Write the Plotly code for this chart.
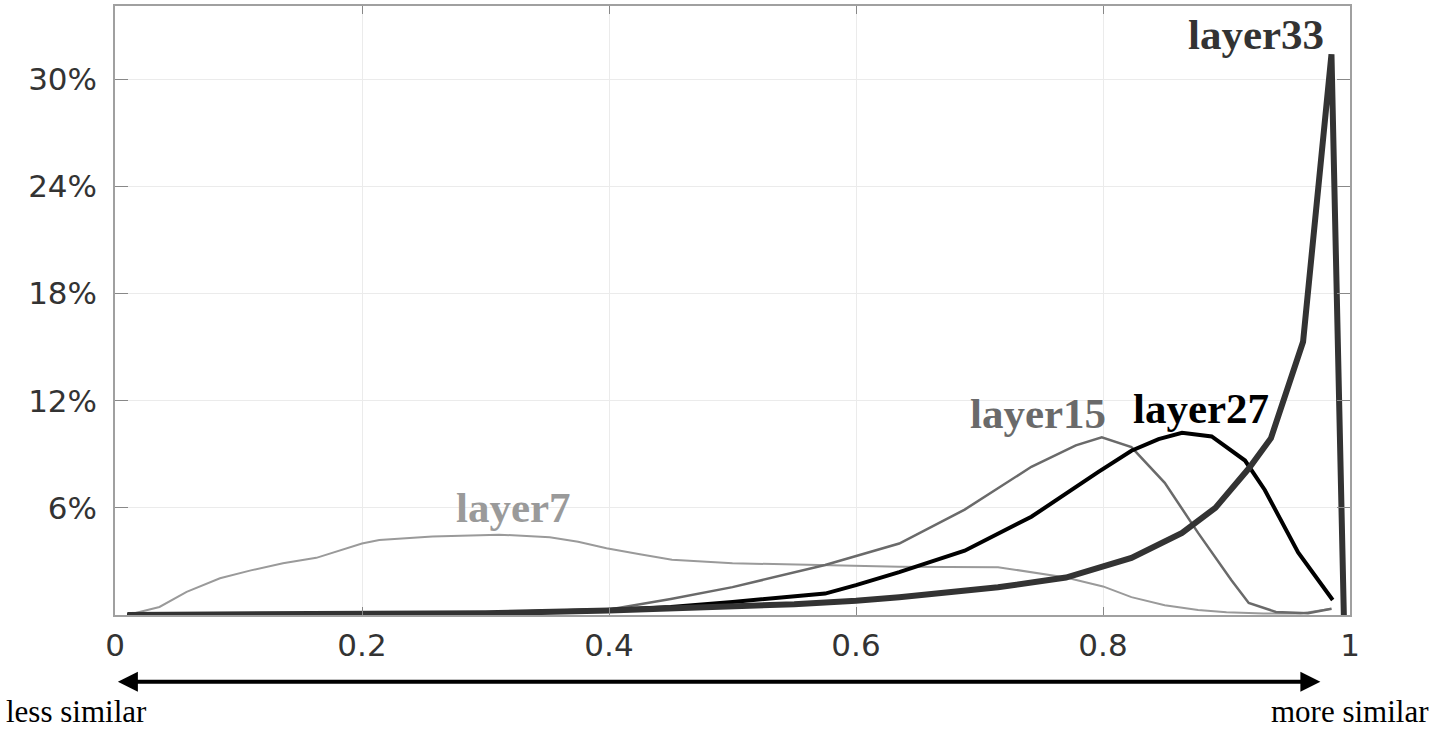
import plotly.graph_objects as go

# ---- data ----
x_layer7 = [0.01, 0.036, 0.058, 0.085, 0.11, 0.136, 0.163, 0.2, 0.214, 0.257, 0.311, 0.352, 0.375,
            0.398, 0.425, 0.451, 0.5, 0.567, 0.635, 0.715, 0.77, 0.8, 0.823, 0.85, 0.877, 0.9,
            0.93, 0.96, 0.985]
y_layer7 = [0, 0.45, 1.3, 2.06, 2.5, 2.9, 3.2, 4.0, 4.2, 4.4, 4.5, 4.35, 4.1,
            3.74, 3.4, 3.1, 2.9, 2.8, 2.7, 2.68, 2.1, 1.6, 1.0, 0.55, 0.28, 0.15,
            0.08, 0.08, 0.35]

x_layer15 = [0.01, 0.2, 0.3, 0.398, 0.45, 0.5, 0.575, 0.635, 0.688, 0.742, 0.778, 0.799,
             0.823, 0.85, 0.877, 0.904, 0.918, 0.94, 0.966, 0.985]
y_layer15 = [0, 0.03, 0.1, 0.28, 0.9, 1.56, 2.8, 4.0, 5.9, 8.3, 9.5, 9.95,
             9.4, 7.4, 4.6, 1.95, 0.67, 0.17, 0.1, 0.35]

x_layer27 = [0.01, 0.2, 0.3, 0.398, 0.45, 0.5, 0.575, 0.6, 0.635, 0.688, 0.742, 0.796,
             0.823, 0.845, 0.864, 0.888, 0.915, 0.931, 0.958, 0.986]
y_layer27 = [0, 0.03, 0.1, 0.28, 0.45, 0.73, 1.2, 1.67, 2.4, 3.6, 5.5, 8.0,
             9.2, 9.85, 10.2, 10.0, 8.65, 7.0, 3.5, 0.84]

x_layer33 = [0.01, 0.2, 0.3, 0.4, 0.5, 0.55, 0.6, 0.635, 0.715, 0.77, 0.823, 0.864,
             0.891, 0.918, 0.936, 0.962, 0.985, 0.995]
y_layer33 = [0, 0.05, 0.1, 0.25, 0.45, 0.6, 0.8, 1.0, 1.55, 2.1, 3.2, 4.6,
             6.0, 8.2, 9.9, 15.3, 31.4, 0]

x_tickvals = [0, 0.2, 0.4, 0.6, 0.8, 1]
x_ticktext = ["0", "0.2", "0.4", "0.6", "0.8", "1"]
y_tickvals = [6, 12, 18, 24, 30]
y_ticktext = ["6%", "12%", "18%", "24%", "30%"]

series = [
    ("layer7", x_layer7, y_layer7, "#9a9a9a", 2),
    ("layer15", x_layer15, y_layer15, "#6a6a6a", 2.5),
    ("layer27", x_layer27, y_layer27, "#000000", 4),
    ("layer33", x_layer33, y_layer33, "#333333", 6),
]
labels = [
    ("layer7", 0.323, 6.0, "#9a9a9a"),
    ("layer15", 0.747, 11.3, "#6a6a6a"),
    ("layer27", 0.879, 11.55, "#000000"),
    ("layer33", 0.924, 32.5, "#333333"),
]

fig = go.Figure()
for name, xs, ys, col, w in series:
    fig.add_trace(go.Scatter(x=xs, y=ys, mode="lines", name=name,
                             line=dict(color=col, width=w), showlegend=False))

for text, lx, ly, col in labels:
    fig.add_annotation(x=lx, y=ly, xref="x", yref="y", text=f"<b>{text}</b>",
                       showarrow=False, xanchor="center", yanchor="middle",
                       font=dict(family="Liberation Serif", size=43, color=col))

# double-headed arrow below the axis
fig.add_annotation(x=0.976, y=-0.1097, xref="paper", yref="paper", ax=-1204, ay=0,
                   text="", showarrow=True, arrowside="end+start",
                   arrowhead=2, startarrowhead=2, arrowsize=1.0, startarrowsize=1.0,
                   arrowwidth=4, arrowcolor="black")

fig.add_annotation(x=-0.0895, y=-0.159, xref="paper", yref="paper", text="less similar",
                   showarrow=False, xanchor="left", yanchor="middle",
                   font=dict(family="Liberation Serif", size=31, color="black"))
fig.add_annotation(x=1.0655, y=-0.159, xref="paper", yref="paper", text="more similar",
                   showarrow=False, xanchor="right", yanchor="middle",
                   font=dict(family="Liberation Serif", size=31, color="black"))

fig.update_layout(
    width=1435, height=731,
    margin=dict(l=115, r=85, t=4, b=116),
    paper_bgcolor="white", plot_bgcolor="white",
    font=dict(family="DejaVu Sans", size=31, color="#333333"),
)
fig.update_xaxes(range=[0, 1], tickvals=x_tickvals, ticktext=x_ticktext,
                 showgrid=True, gridcolor="#ebebeb", gridwidth=1,
                 showline=True, linecolor="#a0a0a0", linewidth=1.5, mirror="ticks",
                 ticks="inside", ticklen=8, tickcolor="#888888",
                 zeroline=False, ticklabelstandoff=2)
fig.update_yaxes(range=[0, 34.1], tickvals=[0] + y_tickvals, ticktext=[""] + y_ticktext,
                 showgrid=True, gridcolor="#ebebeb", gridwidth=1,
                 showline=True, linecolor="#a0a0a0", linewidth=1.5, mirror="ticks",
                 ticks="inside", ticklen=13, tickcolor="#888888",
                 zeroline=False, ticklabelstandoff=10)

fig.write_html("out.html", config={"displayModeBar": False},
               post_script="document.body.style.margin='0';document.body.style.overflow='hidden';")
